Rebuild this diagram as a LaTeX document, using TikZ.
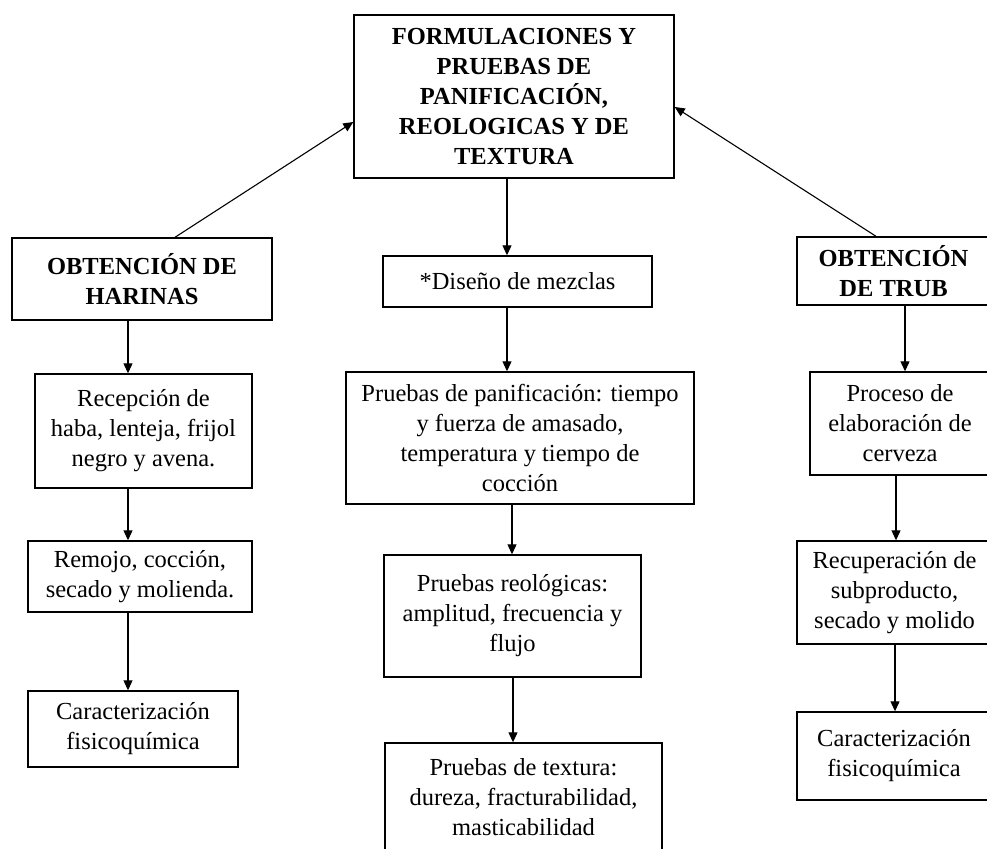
\documentclass[tikz,border=0pt]{standalone}
\usepackage{fontspec}
\setmainfont{Liberation Serif}
\usetikzlibrary{arrows.meta}
\begin{document}
\begin{tikzpicture}
  [x=1pt,y=-1pt,
   font=\fontsize{24.5}{30}\selectfont,
   block/.style 2 args={rectangle,draw=black,line width=1.4pt,align=center,inner sep=0pt,
     minimum width=#1pt,minimum height=#2pt},
   arr/.style={-{Triangle[length=10pt,width=9pt]},line width=1.1pt}]
\useasboundingbox (0,0) rectangle (987,848); % page size
\node at (514,96.5) (form) [block={320}{163}] {\bfseries FORMULACIONES Y\\ \bfseries PRUEBAS DE\\ \bfseries PANIFICACIÓN,\\ \bfseries REOLOGICAS Y DE\\ \bfseries TEXTURA};
% left column
\node at (142,279) (harinas) [block={260}{82}] {\bfseries OBTENCIÓN DE\\ \bfseries HARINAS};
\node at (143.5,431) (recep) [block={217}{114}] {Recepción de\\ haba, lenteja, frijol\\ negro y avena.};
\node at (140,576.5) (remojo) [block={224}{71}] {Remojo, cocción,\\ secado y molienda.};
\node at (133,729) (carL) [block={210}{76}] {Caracterización\\ fisicoquímica};
% middle column
\node at (517.5,281.5) (mezclas) [block={269}{51}] {*Diseño de mezclas};
\node at (520,438) (panif) [block={348}{132}] {Pruebas de panificación: tiempo\\ y fuerza de amasado,\\ temperatura y tiempo de\\ cocción};
\node at (512.5,616) (reol) [block={257}{122}] {Pruebas reológicas:\\ amplitud, frecuencia y\\ flujo};
\node at (523.5,797.5) (textura) [block={277}{109}] {Pruebas de textura:\\ dureza, fracturabilidad,\\ masticabilidad};
% right column
\node at (893.5,271) (trub) [block={193}{68}] {\bfseries OBTENCIÓN\\ \bfseries DE TRUB};
\node at (900,423.5) (proceso) [block={180}{103}] {Proceso de\\ elaboración de\\ cerveza};
\node at (894.5,592.5) (recup) [block={195}{103}] {Recuperación de\\ subproducto,\\ secado y molido};
\node at (894,756) (carR) [block={194}{88}] {Caracterización\\ fisicoquímica};
%
\draw [arr] ([xshift=33pt]harinas.north) -- ([yshift=-25.5pt]form.west);
\draw [arr] ([xshift=-17.5pt]trub.north) -- ([yshift=-10.5pt]form.east);
\draw [arr] ([xshift=-7pt]form.south) -- ([xshift=-10.5pt]mezclas.north);
\draw [arr] ([xshift=-10.5pt]mezclas.south) -- ([xshift=-13pt]panif.north);
\draw [arr] ([xshift=-8pt]panif.south) -- ([xshift=-0.5pt]reol.north);
\draw [arr] ([xshift=0.5pt]reol.south) -- ([xshift=-10.5pt]textura.north);
\draw [arr] ([xshift=-14pt]harinas.south) -- ([xshift=-15.5pt]recep.north);
\draw [arr] ([xshift=-15.5pt]recep.south) -- ([xshift=-12pt]remojo.north);
\draw [arr] ([xshift=-12pt]remojo.south) -- ([xshift=-5pt]carL.north);
\draw [arr] ([xshift=11.5pt]trub.south) -- ([xshift=5pt]proceso.north);
\draw [arr] ([xshift=-4pt]proceso.south) -- ([xshift=1.5pt]recup.north);
\draw [arr] ([xshift=0.5pt]recup.south) -- ([xshift=1pt]carR.north);
\end{tikzpicture}
\end{document}
